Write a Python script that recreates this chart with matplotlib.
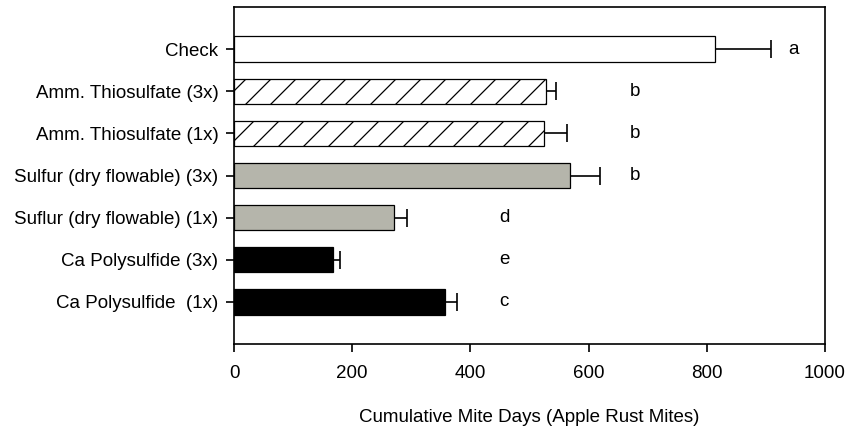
import matplotlib.pyplot as plt
import numpy as np

plt.rcParams['font.family'] = ['Liberation Sans', 'DejaVu Sans']

labels = ['Check', 'Amm. Thiosulfate (3x)', 'Amm. Thiosulfate (1x)',
          'Sulfur (dry flowable) (3x)', 'Suflur (dry flowable) (1x)',
          'Ca Polysulfide (3x)', 'Ca Polysulfide  (1x)']
values = np.array([814, 528, 524, 568, 270, 167, 357])
errors = np.array([95, 17, 39, 51, 23, 12, 20])
letters = ['a', 'b', 'b', 'b', 'd', 'e', 'c']
letter_x = [947, 678, 678, 678, 457, 457, 457]

colors = ['white', 'white', 'white', '#b5b5ab', '#b5b5ab', 'black', 'black']
hatches = ['', '//', '//', '', '', '', '']

y = np.arange(len(labels))

fig = plt.figure(figsize=(848 / 150, 430 / 150), dpi=150)
ax = fig.add_axes([234 / 848, 1 - 344 / 430, (825 - 234) / 848, (344 - 7) / 430])

plt.rcParams['hatch.linewidth'] = 0.6
for i in range(len(labels)):
    ax.barh(y[i], values[i], height=0.6, color=colors[i], edgecolor='black',
            linewidth=0.6, hatch=hatches[i], zorder=2)
    ax.text(letter_x[i], y[i], letters[i], ha='center', va='center', fontsize=9)

# one-sided error bars, cap only at the outer end
ax.errorbar(values, y, xerr=[np.zeros_like(errors), errors], fmt='none',
            ecolor='black', elinewidth=0.8, capsize=0, zorder=3)
ax.plot(values + errors, y, ls='none', marker='|', markersize=9,
        markeredgewidth=0.8, color='black', zorder=3)

ax.set_xlim(0, 1000)
ax.set_ylim(7, -1)
ax.set_xticks([0, 200, 400, 600, 800, 1000])
ax.set_yticks(y, labels)
ax.tick_params(axis='both', labelsize=9, length=4, width=0.8, direction='out')
ax.tick_params(axis='x', pad=6)
ax.tick_params(axis='y', pad=3.5)
for s in ax.spines.values():
    s.set_linewidth(0.8)
ax.set_xlabel('Cumulative Mite Days (Apple Rust Mites)', fontsize=9, labelpad=13)

fig.savefig('out.png', dpi=150)
